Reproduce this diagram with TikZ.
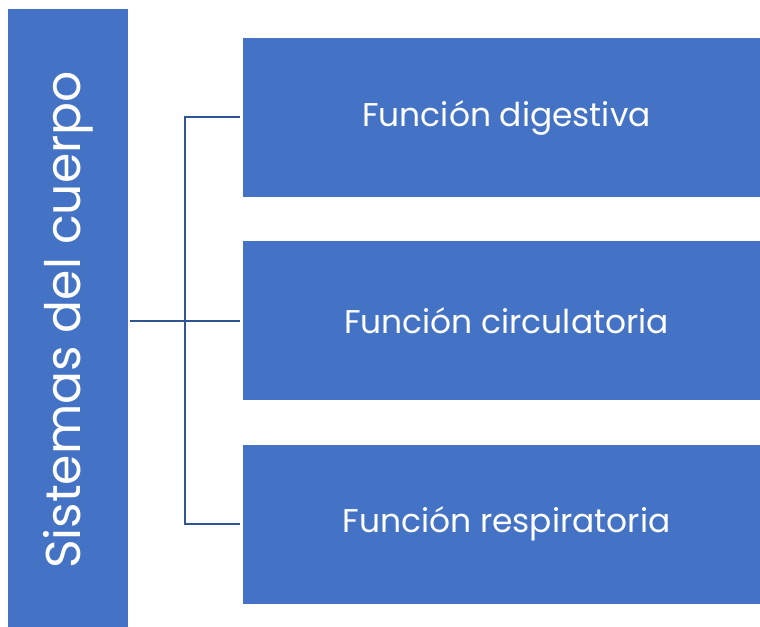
\documentclass[tikz,border=0pt]{standalone}
\usepackage{fontspec}
\setmainfont{Poppins}
\usetikzlibrary{positioning}

\definecolor{boxblue}{HTML}{4472C4}
\definecolor{lineblue}{HTML}{2F5597}

\begin{document}
\begin{tikzpicture}[
    x=1bp, y=1bp,
    node distance=44bp and 44bp,
    every node/.style={font=\fontsize{33}{38}\selectfont},
    mainbox/.style={fill=boxblue, text=white, minimum width=120bp,
                    minimum height=618bp, inner sep=0pt},
    funcbox/.style={fill=boxblue, text=white, minimum width=517bp,
                    minimum height=159bp, inner sep=0pt,
                    execute at begin node=\hspace*{10bp}},
    link/.style={draw=lineblue, line width=2bp},
]
\useasboundingbox (0,0) rectangle (760,627);

\node[mainbox] (sistemas) at (68,309)
      {\rotatebox{90}{\fontsize{49}{54}\selectfont Sistemas del cuerpo\hspace*{4bp}}};
\node[funcbox] (digestiva) at (501.5,509.5) {Función digestiva};
\node[funcbox, below=of digestiva]   (circulatoria) {Función circulatoria};
\node[funcbox, below=of circulatoria] (respiratoria) {Función respiratoria};

\coordinate (hub) at (185,306.5);

\draw[link] (sistemas.east |- circulatoria.west) ++(2,0) -- ([xshift=-3bp]circulatoria.west);
\draw[link] (digestiva.west) ++(-3,0) -- (digestiva.west -| hub)
            -- (respiratoria.west -| hub) -- ([xshift=-3bp]respiratoria.west);

\end{tikzpicture}
\end{document}
